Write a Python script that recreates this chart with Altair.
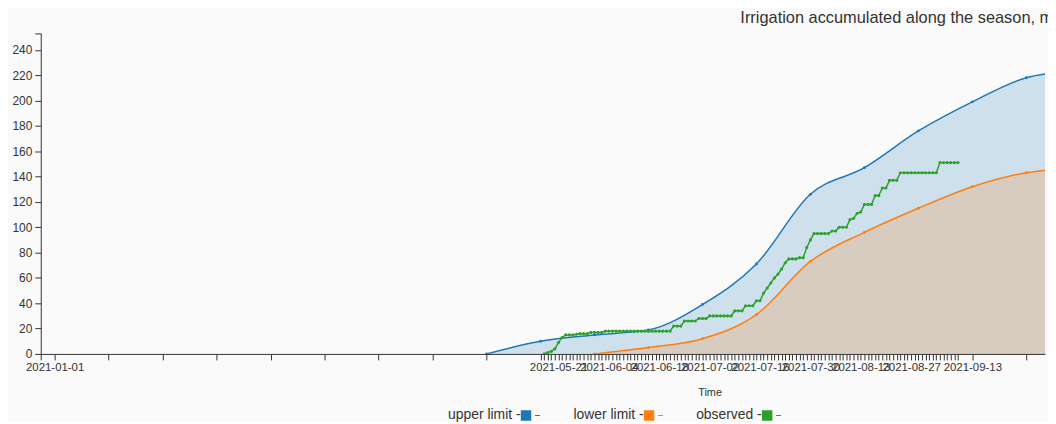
import altair as alt
import pandas as pd

# ---------------- data ----------------
series_names = ["upper limit", "lower limit", "observed"]
series_colors = ["#1f77b4", "#ff7f0e", "#2ca02c"]

upper_dates = ["2021-05-01", "2021-05-16", "2021-05-31", "2021-06-15", "2021-06-30",
               "2021-07-15", "2021-07-30", "2021-08-14", "2021-08-29", "2021-09-13",
               "2021-09-28", "2021-10-13"]
upper_values = [0, 10, 15, 19, 39, 71, 126, 147, 176, 199, 218, 224]

lower_dates = ["2021-05-31", "2021-06-15", "2021-06-30", "2021-07-15", "2021-07-30",
               "2021-08-14", "2021-08-29", "2021-09-13", "2021-09-28", "2021-10-13"]
lower_values = [0, 5, 12, 31, 73, 96, 115, 132, 143, 147]

observed_start = "2021-05-17"
observed_values = [
    0, 1, 2, 4, 9, 13, 15, 15, 15, 15.5, 16, 16, 16, 17, 17, 17, 17, 18, 18,
    18, 18, 18, 18, 18, 18, 18, 18, 18, 18, 18, 18, 18, 18, 18, 18, 18,
    22, 22, 22, 26, 26, 26, 26, 28, 28, 28, 30, 30, 30, 30, 30, 30, 30,
    34, 34, 34, 38, 38, 38, 42, 42, 48, 52, 56, 60, 63, 67, 72, 75,
    75, 75, 76, 76, 84, 90, 95, 95, 95, 95, 95,
    97, 97, 100, 100, 100, 106, 107, 111, 112, 118, 118, 118, 125, 125, 131, 131, 137, 137, 137, 143,
    143, 143, 143, 143, 143, 143, 143, 143, 143, 143, 151, 151, 151, 151, 151, 151,
]

sparse_tick_dates = ["2021-01-01", "2021-01-16", "2021-01-31", "2021-02-15", "2021-03-02",
                     "2021-03-17", "2021-04-01", "2021-04-16", "2021-05-01", "2021-05-16",
                     "2021-05-31", "2021-06-15", "2021-06-30", "2021-07-15", "2021-07-30",
                     "2021-08-14", "2021-08-29", "2021-09-13", "2021-09-28"]
labelled_dates = ["2021-01-01", "2021-05-21", "2021-06-04", "2021-06-18", "2021-07-02",
                  "2021-07-16", "2021-07-30", "2021-08-13", "2021-08-27", "2021-09-13"]
y_tick_values = [0, 20, 40, 60, 80, 100, 120, 140, 160, 180, 200, 220, 240]

title_text = "Irrigation accumulated along the season, mm"
x_title = "Time"

FONT = "Liberation Sans"
DAY = 86400000


def ms(d):
    return int(pd.Timestamp(d, tz="UTC").timestamp() * 1000)


observed_dates = pd.date_range(observed_start, periods=len(observed_values), freq="D")

rows = []
for d, v in zip(upper_dates, upper_values):
    rows.append({"t": ms(d), "value": v, "series": "upper limit"})
for d, v in zip(lower_dates, lower_values):
    rows.append({"t": ms(d), "value": v, "series": "lower limit"})
for d, v in zip(observed_dates, observed_values):
    rows.append({"t": ms(d), "value": v, "series": "observed"})
df = pd.DataFrame(rows)

x_start = ms("2021-01-01") - 3.86 * DAY
x_end = ms("2021-01-01") + 275.2 * DAY
y_max = 253

tick_ms = sorted(set([int(x_start)] + [ms(d) for d in sparse_tick_dates] +
                     [ms(d) for d in observed_dates] + [ms("2021-05-16")]))

label_list = ",".join("'" + d + "'" for d in labelled_dates)
label_expr = ("indexof([" + label_list + "], utcFormat(datum.value, '%Y-%m-%d')) >= 0 ? "
              "utcFormat(datum.value, '%Y-%m-%d') : ''")

x_axis = alt.Axis(
    values=tick_ms, labelExpr=label_expr, labelOverlap=False, labelFlush=False,
    labelBound=False, grid=False, tickSize=6, tickColor="#333", domainColor="#333",
    labelFont=FONT, labelFontSize=11.5, labelColor="#333", labelPadding=2, labelAngle=0,
    title=x_title, titleX=674, titleY=39, titleBaseline="middle", titleAlign="center",
    titleFont=FONT, titleFontSize=11, titleFontWeight="normal", titleColor="#333",
)
y_axis = alt.Axis(
    values=y_tick_values + [y_max], labelExpr="datum.value > 245 ? '' : datum.label",
    grid=False, tickSize=6, tickColor="#333", domainColor="#333", labelPadding=3,
    labelFont=FONT, labelFontSize=12, labelColor="#333", title=None,
)

x = alt.X("t:T", scale=alt.Scale(type="utc", domain=[x_start, x_end], nice=False), axis=x_axis)
y = alt.Y("value:Q", scale=alt.Scale(domain=[0, y_max], nice=False, zero=True), axis=y_axis)

legend_path = ("M-0.75,-0.75L0.75,-0.75L0.75,0.75L-0.75,0.75Z "
               "M1.29,-0.07L2.0,-0.07L2.0,0.07L1.29,0.07Z")
legend = alt.Legend(
    orient="none", legendX=482, legendY=378, direction="horizontal", title=None,
    labelAlign="right", labelOffset={"expr": "-12.5"}, labelExpr="datum.label + ' -'",
    symbolType=legend_path, symbolSize=196, symbolStrokeWidth=0,
    symbolStrokeColor="transparent", symbolOpacity=1,
    labelFont=FONT, labelFontSize=14, labelColor="#333", columnPadding=33, padding=0,
)

fill_enc = alt.Fill("series:N", scale=alt.Scale(domain=series_names, range=series_colors), legend=legend)
color_enc = alt.Color("series:N", scale=alt.Scale(domain=series_names, range=series_colors), legend=None)

base = alt.Chart(df)

area_upper = base.transform_filter(alt.datum.series == "upper limit").mark_area(
    interpolate="monotone", fillOpacity=0.2, clip=True
).encode(x=x, y=y, fill=fill_enc)

area_lower = base.transform_filter(alt.datum.series == "lower limit").mark_area(
    interpolate="monotone", fillOpacity=0.2, clip=True
).encode(x=x, y=y, fill=fill_enc)

line_limits = base.transform_filter(
    alt.FieldOneOfPredicate(field="series", oneOf=["upper limit", "lower limit"])
).mark_line(
    interpolate="monotone", strokeWidth=1.5, clip=True,
    point=alt.OverlayMarkDef(filled=True, size=8, clip=True),
).encode(x=x, y=y, color=color_enc)

line_obs = base.transform_filter(alt.datum.series == "observed").mark_line(
    interpolate="linear", strokeWidth=1.5, clip=True,
    point=alt.OverlayMarkDef(filled=True, size=10, clip=True),
).encode(x=x, y=y, color=color_enc)

chart = alt.layer(area_upper, area_lower, line_limits, line_obs).properties(
    width=1012, height=323,
    autosize=alt.AutoSizeParams(type="none"),
    padding={"left": 33, "top": 24, "right": 3, "bottom": 67},
    background="#fafafa",
    title=alt.TitleParams(
        text=title_text, anchor="start", frame="group", dx=705, dy=15, offset=8,
        baseline="alphabetic", fontSize=16.5, font=FONT, fontWeight="normal", color="#333",
    ),
).configure_view(stroke=None)

chart.save("out.html", embed_options={"renderer": "svg", "actions": False})
